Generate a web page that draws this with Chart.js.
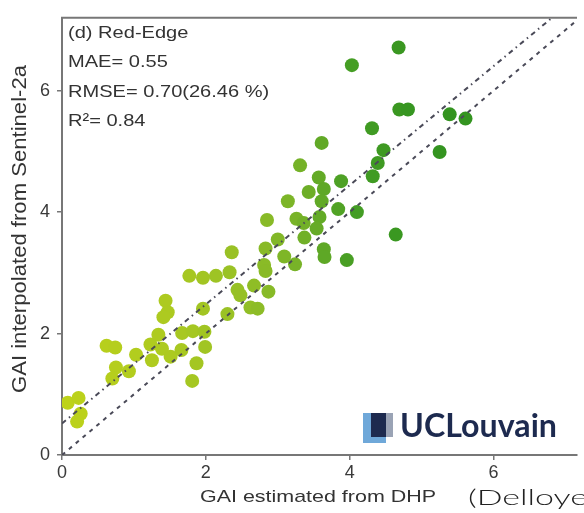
<!DOCTYPE html>
<html>
<head>
<meta charset="utf-8">
<script src="https://cdn.jsdelivr.net/npm/chart.js@4.4.1/dist/chart.umd.min.js"></script>
<style>
  html, body { margin: 0; padding: 0; background: #fff; overflow: hidden; }
  #wrap { position: relative; width: 584px; height: 513px; }
</style>
</head>
<body>
<div id="wrap"><canvas id="gaiChart" width="584" height="513"></canvas></div>
<script>
// ============================================
// DATA
// ============================================

// GAI estimated from DHP (x) / interpolated from Sentinel-2a (y)
const dhpGAI = [
    0.08, 0.23, 0.26, 0.21, 0.62, 0.74, 0.75, 0.70, 0.93, 1.03,
    1.23, 1.25, 1.34, 1.39, 1.51, 1.44, 1.47, 1.41, 1.66, 1.67,
    1.82, 1.98, 1.99, 1.87, 1.81, 1.77, 1.96, 2.14, 2.33, 2.36,
    1.96, 2.30, 2.44, 2.48, 2.62, 2.72, 2.67, 2.87, 2.81, 2.83,
    2.83, 2.85, 3.00, 3.09, 3.24, 3.14, 3.26, 3.36, 3.37, 3.31,
    3.57, 3.61, 3.88, 3.43, 3.64, 3.61, 3.84, 4.10, 3.58, 3.54,
    3.64, 3.65, 3.96, 4.31, 4.47, 4.39, 4.32, 4.64, 4.68, 4.03,
    4.69, 4.81, 5.39, 5.61, 5.25
];
const s2GAI = [
    0.86, 0.94, 0.68, 0.55, 1.80, 1.77, 1.44, 1.26, 1.38, 1.65,
    1.82, 1.56, 1.98, 1.75, 1.62, 2.54, 2.35, 2.27, 1.73, 2.01,
    2.04, 2.03, 1.78, 1.51, 1.22, 2.95, 2.92, 2.95, 3.01, 3.34,
    2.41, 2.32, 2.72, 2.63, 2.43, 2.41, 2.79, 2.69, 3.13, 3.03,
    3.40, 3.87, 3.55, 3.27, 3.14, 4.18, 3.89, 3.82, 3.58, 4.77,
    4.57, 5.14, 4.51, 4.33, 4.38, 4.18, 4.05, 4.00, 3.92, 3.73,
    3.39, 3.26, 3.21, 5.38, 5.02, 4.81, 4.59, 3.63, 6.71, 6.42,
    5.69, 5.69, 5.61, 5.54, 4.99
];

// reference lines (end points)
const lineX = [0, 7.2];
const oneToOneY = [0, 7.2];
const fitY = [0.52, 7.58];

const xTicks = [0, 2, 4, 6];
const yTicks = [0, 2, 4, 6];

const statLines = ['(d) Red-Edge', 'MAE= 0.55', 'RMSE= 0.70(26.46 %)', 'R\u00b2= 0.84'];
const xTitle = 'GAI estimated from DHP';
const yTitle = 'GAI interpolated from Sentinel-2a';
const logoText = 'UCLouvain';
const sourceText = '(Delloye';

// ============================================
// HELPERS
// ============================================

const FONT = '"Liberation Sans", Arial, sans-serif';
const STRETCH = 1.18;   // figure was widened horizontally

function dotColour(x) {
    // yellow-green for low GAI, deep green for high GAI
    const stops = [
        [0.0, [190, 210, 26]],
        [1.5, [172, 202, 32]],
        [2.5, [150, 192, 38]],
        [3.3, [118, 178, 40]],
        [4.0, [70, 158, 36]],
        [5.0, [52, 148, 32]]
    ];
    if (x <= stops[0][0]) return 'rgb(' + stops[0][1].join(',') + ')';
    for (let i = 1; i < stops.length; i++) {
        if (x <= stops[i][0]) {
            const t = (x - stops[i - 1][0]) / (stops[i][0] - stops[i - 1][0]);
            const c = stops[i - 1][1].map((v, k) => Math.round(v + (stops[i][1][k] - v) * t));
            return 'rgb(' + c.join(',') + ')';
        }
    }
    return 'rgb(' + stops[stops.length - 1][1].join(',') + ')';
}

function stretchText(ctx, str, x, y, sx) {
    ctx.save();
    ctx.translate(x, y);
    ctx.scale(sx, 1);
    ctx.fillText(str, 0, 0);
    ctx.restore();
}

function fitText(ctx, str, x, y, width) {
    const w = ctx.measureText(str).width;
    stretchText(ctx, str, x, y, width / w);
}

// ============================================
// OVERLAY: frame top, stats, titles, logo
// ============================================

const overlay = {
    id: 'overlay',
    afterDraw(chart) {
        const ctx = chart.ctx;
        const a = chart.chartArea;
        ctx.save();

        // top border of the frame
        ctx.strokeStyle = '#777';
        ctx.lineWidth = 2;
        ctx.beginPath();
        ctx.moveTo(a.left - 1, a.top);
        ctx.lineTo(a.right, a.top);
        ctx.stroke();

        // statistics block
        ctx.fillStyle = '#333';
        ctx.font = '17px ' + FONT;
        ctx.textBaseline = 'middle';
        ctx.textAlign = 'left';
        const rows = [33, 62.5, 92, 121];
        statLines.forEach((s, i) => stretchText(ctx, s, 68, rows[i], STRETCH));

        // x title
        ctx.textAlign = 'center';
        fitText(ctx, xTitle, 318, 497, 236);

        // y title (rotated, longer than the font gives)
        ctx.save();
        ctx.translate(20, 229);
        ctx.rotate(-Math.PI / 2);
        ctx.scale(1.3, STRETCH);
        ctx.fillText(yTitle, 0, 0);
        ctx.restore();

        // logo
        ctx.textAlign = 'left';
        ctx.fillStyle = '#6fa8d9';
        ctx.fillRect(363, 413, 23, 30);
        ctx.fillStyle = '#1d2a4f';
        ctx.fillRect(371, 413, 15, 24);
        ctx.fillStyle = '#9aa3b5';
        ctx.fillRect(386, 413, 7, 24);
        ctx.fillStyle = '#1d2a4f';
        ctx.font = 'bold 32px Lato, ' + FONT;
        ctx.textBaseline = 'alphabetic';
        fitText(ctx, logoText, 400, 437, 157);

        // source (cut by the page edge)
        ctx.fillStyle = '#222';
        ctx.font = '300 21px Lato, ' + FONT;
        ctx.textBaseline = 'middle';
        fitText(ctx, sourceText, 468, 498, 120);

        ctx.restore();
    }
};

// ============================================
// CHART
// ============================================

const points = dhpGAI.map((x, i) => ({ x: x, y: s2GAI[i] }));
const colours = dhpGAI.map(dotColour);

const axisCommon = {
    type: 'linear',
    grid: { drawOnChartArea: false, drawTicks: true, tickLength: 5, color: '#777', lineWidth: 1.5 },
    border: { display: true, color: '#777', width: 2 },
    ticks: { color: '#3a3a3a', font: { family: FONT, size: 18 }, maxRotation: 0 }
};

new Chart(document.getElementById('gaiChart').getContext('2d'), {
    type: 'scatter',
    data: {
        datasets: [
            {
                label: '1:1',
                type: 'line',
                data: lineX.map((x, i) => ({ x: x, y: oneToOneY[i] })),
                borderColor: '#4a4a58',
                borderWidth: 2,
                borderDash: [4, 5],
                pointRadius: 0,
                fill: false,
                order: 0
            },
            {
                label: 'fit',
                type: 'line',
                data: lineX.map((x, i) => ({ x: x, y: fitY[i] })),
                borderColor: '#4a4a58',
                borderWidth: 2,
                borderDash: [5, 4, 1.5, 4],
                pointRadius: 0,
                fill: false,
                order: 0
            },
            {
                label: 'plots',
                data: points,
                pointRadius: 7,
                pointHoverRadius: 7,
                backgroundColor: colours,
                borderWidth: 0,
                order: 2
            }
        ]
    },
    options: {
        responsive: false,
        animation: false,
        devicePixelRatio: 1,
        layout: { padding: { top: 11, right: 0, bottom: 0, left: 0 } },
        plugins: {
            legend: { display: false },
            tooltip: { enabled: false }
        },
        scales: {
            x: Object.assign({}, axisCommon, {
                min: 0,
                max: 7.16,
                afterFit: s => { s.height = 58; },
                afterBuildTicks: s => { s.ticks = xTicks.map(v => ({ value: v })); },
                ticks: Object.assign({}, axisCommon.ticks, { padding: 2 })
            }),
            y: Object.assign({}, axisCommon, {
                min: 0,
                max: 7.2,
                afterFit: s => { s.width = 62; },
                afterBuildTicks: s => { s.ticks = yTicks.map(v => ({ value: v })); },
                ticks: Object.assign({}, axisCommon.ticks, { padding: 7 })
            })
        }
    },
    plugins: [overlay]
});
</script>
</body>
</html>
